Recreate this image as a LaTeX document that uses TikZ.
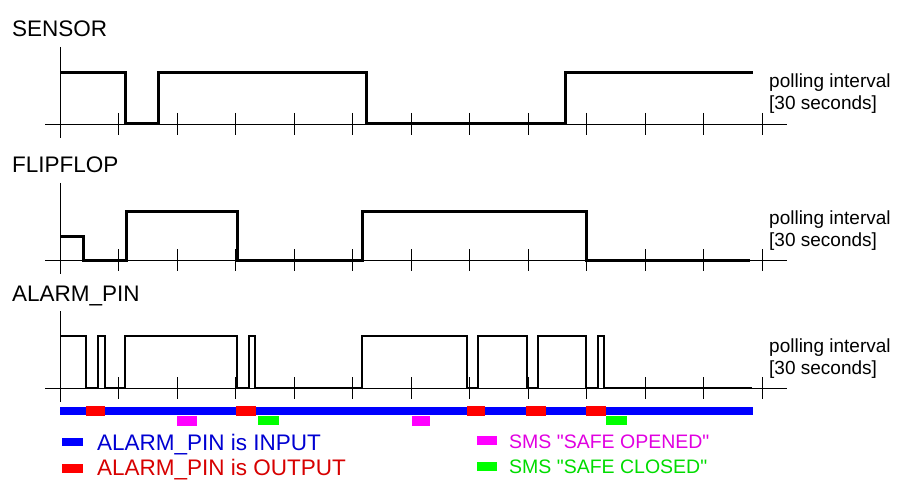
\documentclass[tikz,border=0pt]{standalone}
\usepackage{fontspec}
\setmainfont{Liberation Sans}
\newfontfamily\smsfont{Liberation Sans}

\definecolor{pinblue}{RGB}{0,0,255}
\definecolor{pinred}{RGB}{255,0,0}
\definecolor{smsmag}{RGB}{255,0,255}
\definecolor{smsgreen}{RGB}{0,255,0}
\definecolor{inputtext}{RGB}{0,0,210}
\definecolor{outputtext}{RGB}{215,0,0}
\definecolor{openedtext}{RGB}{225,0,225}
\definecolor{closedtext}{RGB}{0,220,0}

\begin{document}
\begin{tikzpicture}[x=1pt, y=-1pt,
    axis/.style={line width=0.9pt},
    signal/.style={line width=3pt},
    title/.style={anchor=base west, inner sep=0pt, font=\fontsize{22.5}{26}\selectfont},
    poll/.style={anchor=base west, inner sep=0pt, font=\fontsize{19}{22}\selectfont},
    keytext/.style={anchor=base west, inner sep=0pt}]
  \useasboundingbox[fill=white] (0,0) rectangle (900,500);

  % Axes, ticks and polling labels
  \foreach \name/\y/\lbl in {sensor/124/SENSOR, flipflop/260/FLIPFLOP, alarm/388/ALARM\_PIN} {
    \node[title] (\name-title) at (12, \y-87) {\lbl};
    \draw[axis] (45, \y) -- (787, \y);
    \draw[axis] (60, \y-77) -- (60, \y+14);
    \foreach \k in {1,...,12}
      \draw[axis] (60+\k*58.5, \y-11) -- (60+\k*58.5, \y+11);
    \node[poll] (\name-poll) at (769, \y-36) {polling interval};
    \node[poll] (\name-secs) at (769, \y-14) {[30 seconds]};
  }

  % Sensor level
  \draw[signal] (60,73) -| (125,124) -| (158,73) -| (366,124) -| (565,73) -- (753,73);

  % Flipflop state
  \draw[signal] (60,236) -| (83,260) -| (126,211) -| (237,260) -| (362,211)
    -| (586,260) -- (750,260);

  % Alarm pin level
  \draw[signal, line width=2.5pt] (60,336) -| (86,388) -| (98,336) -| (105,388)
    -| (125,336) -| (237,388) -| (249,336) -| (255,388) -| (362,336)
    -| (467,388) -| (478,336) -| (527,388) -| (538,336) -| (586,388)
    -| (598,336) -| (604,388) -- (752,388);

  % Pin direction and SMS marks
  \fill[pinblue] (60,407) rectangle (753,415);
  \foreach \a/\b in {86/105, 236/256, 467/485, 526/546, 586/606}
    \fill[pinred] (\a,406) rectangle (\b,416);
  \foreach \a/\b in {177/197, 412/430}
    \fill[smsmag] (\a,416) rectangle (\b,426);
  \foreach \a/\b in {258/279, 606/627}
    \fill[smsgreen] (\a,416) rectangle (\b,425);

  % Legend
  \fill[pinblue] (62,438) rectangle (83,446);
  \node[keytext, font=\fontsize{22.5}{26}\selectfont, text=inputtext]
    (input-key) at (97,450) {ALARM\_PIN is INPUT};
  \fill[pinred] (62,464) rectangle (83,473);
  \node[keytext, font=\fontsize{22.5}{26}\selectfont, text=outputtext]
    (output-key) at (97,475) {ALARM\_PIN is OUTPUT};
  \fill[smsmag] (477,436) rectangle (497,445);
  \node[keytext, font=\smsfont\fontsize{19.5}{22}\selectfont, text=openedtext]
    (opened-key) at (509,448) {SMS "SAFE OPENED"};
  \fill[smsgreen] (477,462) rectangle (497,471);
  \node[keytext, font=\smsfont\fontsize{19.5}{22}\selectfont, text=closedtext]
    (closed-key) at (509,473) {SMS "SAFE CLOSED"};
\end{tikzpicture}
\end{document}
